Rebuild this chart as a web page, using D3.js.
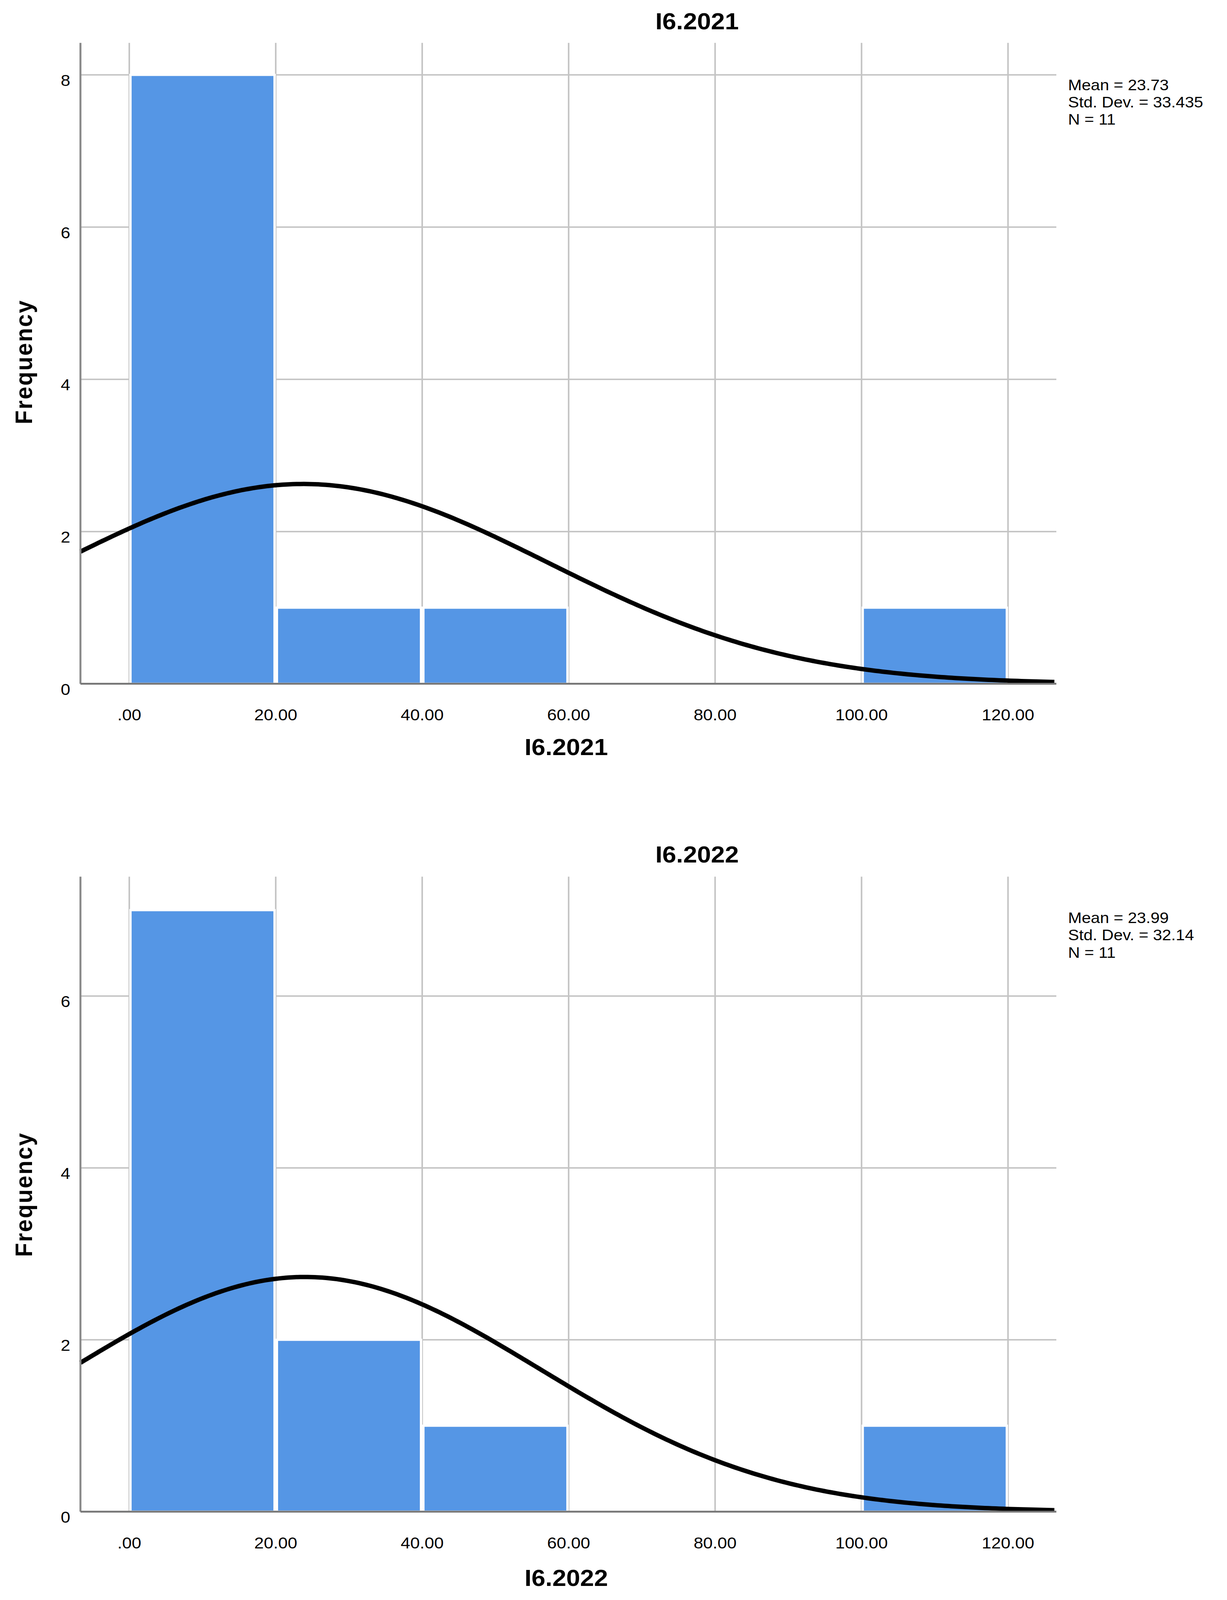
<!DOCTYPE html>
<html><head><meta charset="utf-8">
<script src="https://cdn.jsdelivr.net/npm/d3@7"></script>
<style>html,body{margin:0;padding:0;overflow:hidden;background:#fff}svg{display:block}</style>
</head><body><div id="chart"></div>
<script>
// Histogram data
var binStarts = [0, 20, 40, 60, 80, 100];
var counts2021 = [8, 1, 1, 0, 0, 1];
var counts2022 = [7, 2, 1, 0, 0, 1];
var xTicks = [0, 20, 40, 60, 80, 100, 120];
var yTicks2021 = [0, 2, 4, 6, 8];
var yTicks2022 = [0, 2, 4, 6];
var titles = ["I6.2021", "I6.2022"];
var stats2021 = { mean: 23.73, sd: 33.435, n: 11 };
var stats2022 = { mean: 23.99, sd: 32.14, n: 11 };
var binWidth = 20;

var W = 3142, H = 4364;
// fit the whole drawing into the visible window
var svg = d3.select("#chart").append("svg")
    .attr("viewBox", "0 0 " + W + " " + H)
    .attr("preserveAspectRatio", "none")
    .style("width", "100vw").style("height", "100vh");

function panel(cfg) {
    var x = d3.scaleLinear().domain([-6.67, 126.6]).range([206, 2705]);
    var y = d3.scaleLinear().domain([0, cfg.ymax]).range([cfg.y0, cfg.top]);
    var g = svg.append("g");

    // grid lines
    g.selectAll(".vg").data(xTicks).enter().append("line")
        .attr("x1", function(d) { return x(d); }).attr("x2", function(d) { return x(d); })
        .attr("y1", cfg.top).attr("y2", cfg.y0)
        .attr("stroke", "#c4c4c4").attr("stroke-width", 4);
    g.selectAll(".hg").data(cfg.yTicks).enter().append("line")
        .attr("x1", 206).attr("x2", 2705)
        .attr("y1", function(d) { return y(d); }).attr("y2", function(d) { return y(d); })
        .attr("stroke", "#c4c4c4").attr("stroke-width", 4);

    // bars
    g.selectAll(".bar").data(cfg.counts.map(function(c, i) { return { x0: binStarts[i], c: c }; })
        .filter(function(d) { return d.c > 0; }))
        .enter().append("rect")
        .attr("x", function(d) { return x(d.x0) + 3; })
        .attr("width", function(d) { return x(d.x0 + binWidth) - x(d.x0) - 6; })
        .attr("y", function(d) { return y(d.c); })
        .attr("height", function(d) { return y(0) - y(d.c); })
        .attr("fill", "#5596e5").attr("stroke", "#ffffff").attr("stroke-width", 6);

    // normal curve
    var s = cfg.stats;
    var pts = d3.range(-6.67, 126.7, 0.5).map(function(v) {
        var z = (v - s.mean) / s.sd;
        return [v, s.n * binWidth * Math.exp(-0.5 * z * z) / (s.sd * Math.sqrt(2 * Math.PI))];
    });
    g.append("path").datum(pts)
        .attr("d", d3.line().x(function(d) { return x(d[0]); }).y(function(d) { return y(d[1]); }))
        .attr("fill", "none").attr("stroke", "#000").attr("stroke-width", 12);

    // axes lines
    g.append("line").attr("x1", 206).attr("x2", 206).attr("y1", cfg.top).attr("y2", cfg.y0)
        .attr("stroke", "#888").attr("stroke-width", 5);
    g.append("line").attr("x1", 206).attr("x2", 2705).attr("y1", cfg.y0).attr("y2", cfg.y0)
        .attr("stroke", "#777").attr("stroke-width", 5);

    // tick labels
    g.selectAll(".xt").data(xTicks).enter().append("text")
        .attr("x", function(d) { return x(d); }).attr("y", cfg.y0 + 100)
        .attr("text-anchor", "middle").attr("font-family", "Liberation Sans, Arial").attr("font-size", 44)
        .text(function(d) { return d === 0 ? ".00" : d.toFixed(2); });
    g.selectAll(".yt").data(cfg.yTicks).enter().append("text")
        .attr("x", 180).attr("y", function(d) { return y(d) + 30; })
        .attr("text-anchor", "end").attr("font-family", "Liberation Sans, Arial").attr("font-size", 44)
        .text(function(d) { return d; });

    // titles
    g.append("text").attr("x", 1785).attr("y", cfg.titleY).attr("text-anchor", "middle")
        .attr("font-family", "Liberation Sans, Arial").attr("font-weight", "bold").attr("font-size", 64)
        .text(cfg.title);
    g.append("text").attr("x", 1450).attr("y", cfg.xLabelY).attr("text-anchor", "middle")
        .attr("font-family", "Liberation Sans, Arial").attr("font-weight", "bold").attr("font-size", 64)
        .text(cfg.title);
    g.append("text").attr("transform", "translate(82," + cfg.freqY + ") rotate(-90)")
        .attr("text-anchor", "middle").attr("font-family", "Liberation Sans, Arial")
        .attr("font-weight", "bold").attr("font-size", 62).attr("letter-spacing", 3)
        .text("Frequency");

    // stats box
    var lines = ["Mean = " + cfg.meanText, "Std. Dev. = " + cfg.sdText, "N = " + s.n];
    g.selectAll(".st").data(lines).enter().append("text")
        .attr("x", 2735).attr("y", function(d, i) { return cfg.statY + i * 47; })
        .attr("font-family", "Liberation Sans, Arial").attr("font-size", 42)
        .text(function(d) { return d; });
}

panel({ counts: counts2021, stats: stats2021, yTicks: yTicks2021, ymax: 8.42, y0: 1865, top: 117,
    title: titles[0], titleY: 80, xLabelY: 2060, freqY: 987, statY: 246, meanText: "23.73", sdText: "33.435" });
panel({ counts: counts2022, stats: stats2022, yTicks: yTicks2022, ymax: 7.39, y0: 4123, top: 2391,
    title: titles[1], titleY: 2352, xLabelY: 4326, freqY: 3258, statY: 2518, meanText: "23.99", sdText: "32.14" });
</script>
</body></html>
